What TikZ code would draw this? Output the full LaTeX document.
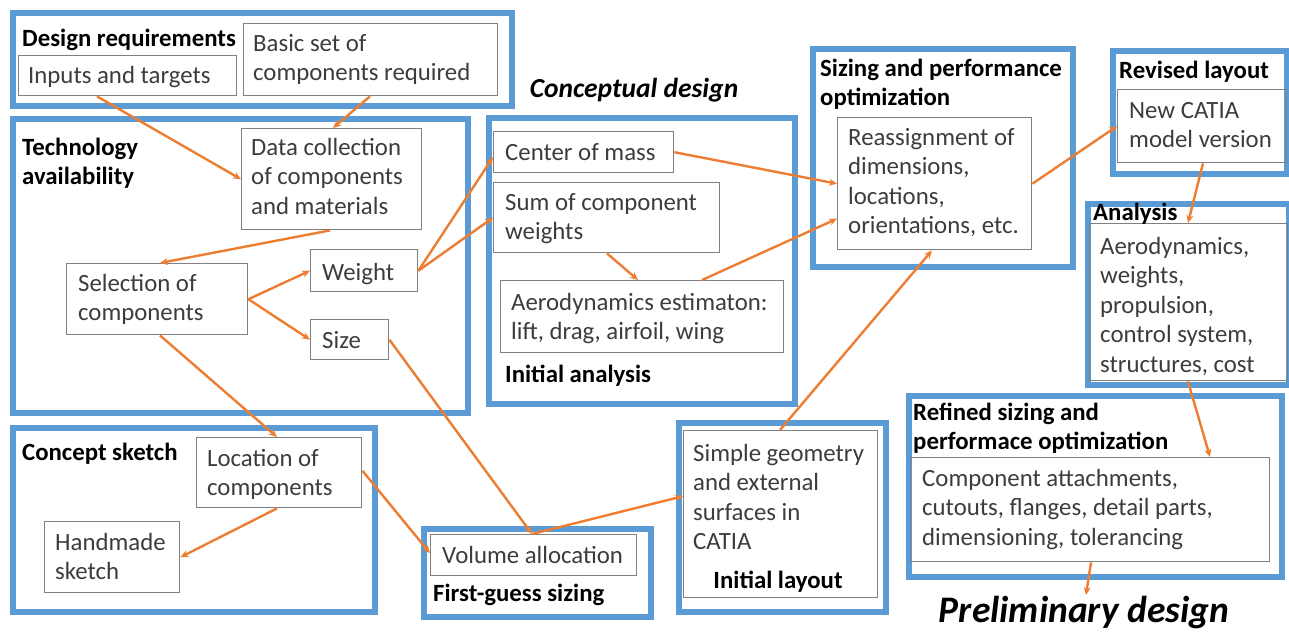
\documentclass[tikz,border=0pt]{standalone}
\usepackage{fontspec}
\setmainfont{Carlito}
\usetikzlibrary{arrows.meta,calc}
\definecolor{fblue}{RGB}{91,155,213}
\definecolor{aorange}{RGB}{237,125,49}
\definecolor{bgray}{RGB}{128,128,128}
\definecolor{tgray}{RGB}{60,60,60}
\newcommand{\ml}[1]{\begin{tabular}[t]{@{}l@{}}#1\end{tabular}}
\begin{document}
\begin{tikzpicture}[x=1pt,y=-1pt,
 frame/.style={draw=fblue, line width=6pt, anchor=north west, inner sep=0pt},
 gbox/.style={draw=bgray, line width=1.4pt, anchor=north west, inner sep=0pt},
 txt/.style={anchor=base west, inner sep=0pt, text=tgray, font=\fontsize{24.8}{29.5}\selectfont},
 ttl/.style={anchor=base west, inner sep=0pt, text=black, font=\bfseries\fontsize{24.8}{29.5}\selectfont},
 big/.style={inner sep=0pt, text=black, font=\bfseries\itshape\fontsize{#1}{#1}\selectfont},
 arr/.style={draw=aorange, line width=2.4pt, -{Stealth[length=8pt,width=7pt]}},
]
\useasboundingbox (0,0) rectangle (1289,632);
% frames
\node[frame, minimum width=499pt, minimum height=93pt] (fDR) at (10,10) {};
\node[frame, minimum width=455pt, minimum height=294pt] (fTA) at (10,116) {};
\node[frame, minimum width=306pt, minimum height=286pt] (fIA) at (486,115) {};
\node[frame, minimum width=260pt, minimum height=218pt] (fSP) at (810,46) {};
\node[frame, minimum width=174pt, minimum height=123pt] (fRL) at (1110,48) {};
\node[frame, minimum width=201pt, minimum height=181pt] (fAN) at (1085,201) {};
\node[frame, minimum width=362pt, minimum height=184pt] (fCS) at (10,425) {};
\node[frame, minimum width=227pt, minimum height=88pt] (fFG) at (421,526) {};
\node[frame, minimum width=207pt, minimum height=189pt] (fIL) at (676,420) {};
\node[frame, minimum width=373pt, minimum height=181pt] (fRS) at (906,393) {};
% boxes
\node[gbox, minimum width=218pt, minimum height=40pt] (inputs) at (18,55) {};
\node[gbox, minimum width=254pt, minimum height=72pt] (basic) at (243,23) {};
\node[gbox, minimum width=180pt, minimum height=101pt] (data) at (241,128) {};
\node[gbox, minimum width=181pt, minimum height=71pt] (select) at (66,263) {};
\node[gbox, minimum width=107pt, minimum height=42pt] (weight) at (310,249) {};
\node[gbox, minimum width=78pt, minimum height=40pt] (size) at (310,319) {};
\node[gbox, minimum width=180pt, minimum height=41pt] (com) at (493,131) {};
\node[gbox, minimum width=226pt, minimum height=70pt] (sum) at (493,182) {};
\node[gbox, minimum width=283pt, minimum height=72pt] (aero) at (500,280) {};
\node[gbox, minimum width=194pt, minimum height=132pt] (reas) at (837,117) {};
\node[gbox, minimum width=169pt, minimum height=73pt] (newc) at (1117,89) {};
\node[gbox, minimum width=198pt, minimum height=157pt] (anbox) at (1089,223) {};
\node[gbox, minimum width=165pt, minimum height=70pt] (loc) at (196,437) {};
\node[gbox, minimum width=135pt, minimum height=71pt] (hand) at (44,521) {};
\node[gbox, minimum width=206pt, minimum height=41pt] (vol) at (430,534) {};
\node[gbox, minimum width=194pt, minimum height=167pt] (simple) at (683,430) {};
\node[gbox, minimum width=359pt, minimum height=104pt] (comp) at (910,457) {};
% texts
\node[ttl] (tDR) at (22,46) {Design requirements};
\node[txt] (tInputs) at (28,83) {Inputs and targets};
\node[txt] (tBasic) at (253,51) {\ml{Basic set of\\components required}};
\node[ttl] (tTA) at (22,155) {\ml{Technology\\availability}};
\node[txt] (tData) at (251,155) {\ml{Data collection\\of components\\and materials}};
\node[txt] (tSel) at (78,291) {\ml{Selection of\\components}};
\node[txt] (tWeight) at (322,280) {Weight};
\node[txt] (tSize) at (322,348) {Size};
\node[big=27.5] (tCD) at (634,90) {Conceptual design};
\node[txt] (tCom) at (505,160) {Center of mass};
\node[txt] (tSum) at (505,210) {\ml{Sum of component\\weights}};
\node[txt] (tAero) at (511,310) {\ml{Aerodynamics estimaton:\\lift, drag, airfoil, wing}};
\node[ttl] (tIA) at (505,382) {Initial analysis};
\node[ttl] (tSP) at (820,76) {\ml{Sizing and performance\\optimization}};
\node[txt] (tReas) at (848,145) {\ml{Reassignment of\\dimensions,\\locations,\\orientations, etc.}};
\node[ttl] (tRL) at (1119,78) {Revised layout};
\node[txt] (tNew) at (1129,118) {\ml{New CATIA\\model version}};
\node[ttl] (tAN) at (1093,220) {Analysis};
\node[txt] (tAnBox) at (1100,254) {\ml{Aerodynamics,\\weights,\\propulsion,\\control system,\\structures, cost}};
\node[ttl] (tCS) at (22,460) {Concept sketch};
\node[txt] (tLoc) at (207,466) {\ml{Location of\\components}};
\node[txt] (tHand) at (55,550) {\ml{Handmade\\sketch}};
\node[txt] (tVol) at (442,563) {Volume allocation};
\node[ttl] (tFG) at (433,601) {First-guess sizing};
\node[txt] (tSimple) at (693,461) {\ml{Simple geometry\\and external\\surfaces in\\CATIA}};
\node[ttl, anchor=base] (tIL) at (778,588) {Initial layout};
\node[ttl] (tRS) at (913,420) {\ml{Refined sizing and\\performace optimization}};
\node[txt] (tComp) at (922,486) {\ml{Component attachments,\\cutouts, flanges, detail parts,\\dimensioning, tolerancing}};
\node[big=37.5, anchor=base] (tPD) at (1084,622) {Preliminary design};
\coordinate (pdtop) at (1086,595);
% connectors
\draw[arr] ([xshift=79pt]inputs.south west) -- (data.west);
\draw[arr] ([xshift=127pt]basic.south west) -- ([xshift=92pt]data.north west);
\draw[arr] ([xshift=89pt]data.south west) -- ([xshift=94pt]select.north west);
\draw[arr] (select.east) -- (weight.west);
\draw[arr] (select.east) -- (size.west);
\draw[arr] (weight.east) -- ([yshift=-5pt]com.west);
\draw[arr] (weight.east) -- (sum.west);
\draw[arr] ([xshift=114pt]sum.south west) -- ([xshift=138pt]aero.north west);
\draw[arr] ([xshift=202pt]aero.north west) -- ([yshift=-35pt]reas.west);
\draw[arr] (com.east) -- (reas.west);
\draw[arr] (reas.east) -- (newc.west);
\draw[arr] ([xshift=86pt]newc.south west) -- ([xshift=99pt]anbox.north west);
\draw[arr] ([xshift=99pt]anbox.south west) -- ([xshift=300pt]comp.north west);
\draw[arr] ([xshift=181pt]comp.south west) -- (pdtop);
\draw[arr] ([xshift=94pt]select.south west) -- ([xshift=81pt]loc.north west);
\draw[arr] ([xshift=81pt]loc.south west) -- (hand.east);
\draw[arr] ([yshift=2pt]loc.east) -- ([yshift=2pt]vol.west);
\draw[arr] (size.east) -- ([xshift=102pt]vol.north west);
\draw[arr] ([xshift=102pt]vol.north west) -- ([yshift=18pt]simple.west);
\draw[arr] ([xshift=97pt]simple.north west) -- ([xshift=95pt]reas.south west);
\end{tikzpicture}
\end{document}
